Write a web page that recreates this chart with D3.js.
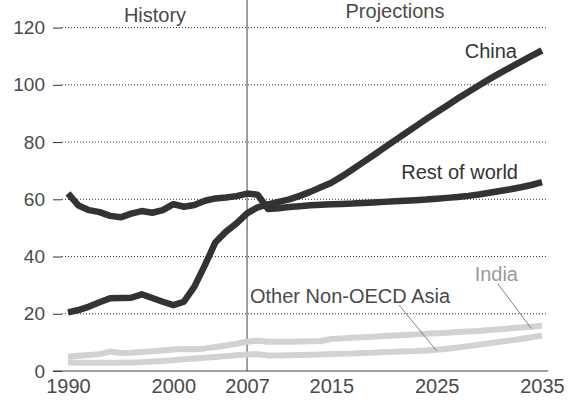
<!DOCTYPE html>
<html>
<head>
<meta charset="utf-8">
<script src="https://cdn.jsdelivr.net/npm/d3@7"></script>
<style>
  html, body { margin: 0; padding: 0; background: #fff; }
  svg { display: block; font-family: "Liberation Sans", Arial, Helvetica, sans-serif; }
</style>
</head>
<body>
<svg id="chart" width="584" height="416"></svg>
<script>
const years = d3.range(1990, 2036);
const china = [20.5,21.3,22.5,24,25.4,25.5,25.6,26.8,25.5,24.2,23,24.2,29.5,37,45,48.7,51.6,55.1,57.2,58.2,
  59.1,60,61.2,62.6,64.2,65.8,68,70.4,72.9,75.4,78,80.5,83,85.5,88,90.4,92.8,95.2,97.5,99.8,102,104.1,106.1,108.1,110.1,112];
const restOfWorld = [62.1,57.8,56.2,55.5,54.2,53.7,55,55.9,55.3,56.2,58.3,57.4,58,59.5,60.3,60.6,61.1,62,61.6,56.6,
  56.9,57.3,57.6,57.9,58.1,58.3,58.4,58.5,58.7,58.9,59.1,59.3,59.5,59.7,59.9,60.2,60.5,60.8,61.2,61.7,62.3,62.9,63.5,64.2,65,66];
const india = [5.0,5.3,5.6,5.9,6.8,6.3,6.4,6.6,6.9,7.2,7.5,7.7,7.6,7.9,8.4,8.9,9.5,10.2,10.6,10.2,
  10.2,10.2,10.3,10.4,10.5,11.2,11.4,11.6,11.8,12.0,12.2,12.4,12.6,12.8,13.0,13.2,13.4,13.6,13.8,14.0,14.3,14.6,14.9,15.2,15.5,15.8];
const otherAsia = [3.0,2.9,2.9,2.9,2.9,2.9,3.0,3.1,3.3,3.5,3.8,4.1,4.4,4.6,4.9,5.2,5.5,5.8,5.9,5.4,
  5.4,5.5,5.6,5.7,5.8,5.9,6.0,6.1,6.3,6.4,6.6,6.7,6.9,7.0,7.2,7.4,7.8,8.2,8.7,9.2,9.7,10.2,10.7,11.2,11.8,12.4];
const xTicks = [1990, 2000, 2007, 2015, 2025, 2035];
const yTicks = [0, 20, 40, 60, 80, 100, 120];
const splitYear = 2007;

const svg = d3.select("#chart");
const x = d3.scaleLinear().domain([1990, 2035]).range([68, 542]);
const y = d3.scaleLinear().domain([0, 120]).range([371, 27.6]);
const textColor = "#4a4a4a";
const fs = "20px";

// gridlines (dotted)
svg.append("g").selectAll("line").data(yTicks.filter(d => d > 0)).join("line")
  .attr("x1", 62).attr("x2", 548)
  .attr("y1", d => y(d)).attr("y2", d => y(d))
  .attr("stroke", "#333").attr("stroke-width", 1).attr("stroke-dasharray", "1,2");

// y axis ticks + labels
const yAxis = svg.append("g").attr("transform", "translate(62,0)")
  .call(d3.axisLeft(y).tickValues(yTicks).tickSize(9).tickPadding(8));
yAxis.select(".domain").remove();
yAxis.selectAll(".tick line").attr("stroke", "#333");
yAxis.selectAll(".tick text").attr("fill", textColor).style("font-size", "19px")
  .style("font-family", "Liberation Sans, Arial, sans-serif");

// x axis
svg.append("line").attr("x1", 53).attr("x2", 548).attr("y1", y(0)).attr("y2", y(0))
  .attr("stroke", "#444").attr("stroke-width", 1.2);
const xAxis = svg.append("g").attr("transform", `translate(0,${y(0)})`)
  .call(d3.axisBottom(x).tickValues(xTicks).tickFormat(d3.format("d")).tickSize(0).tickPadding(8));
xAxis.select(".domain").remove();
xAxis.selectAll(".tick text").attr("fill", textColor).style("font-size", fs)
  .style("font-family", "Liberation Sans, Arial, sans-serif");

// split line
svg.append("line").attr("x1", x(splitYear)).attr("x2", x(splitYear)).attr("y1", 0).attr("y2", y(0))
  .attr("stroke", "#444").attr("stroke-width", 1);

// headers
svg.append("text").attr("x", 155).attr("y", 22).attr("text-anchor", "middle")
  .attr("fill", textColor).style("font-size", fs).text("History");
svg.append("text").attr("x", 395).attr("y", 18).attr("text-anchor", "middle")
  .attr("fill", textColor).style("font-size", fs).text("Projections");

const line = d3.line().x((d, i) => x(years[i])).y(d => y(d));

const series = [
  { values: otherAsia, color: "#d2d2d2", width: 6 },
  { values: india, color: "#d2d2d2", width: 6 },
  { values: restOfWorld, color: "#333333", width: 6.5 },
  { values: china, color: "#333333", width: 6.5 }
];
svg.append("g").selectAll("path").data(series).join("path")
  .attr("d", d => line(d.values))
  .attr("fill", "none").attr("stroke", d => d.color).attr("stroke-width", d => d.width)
  .attr("stroke-linejoin", "round").attr("stroke-linecap", "butt");

// labels
svg.append("text").attr("x", 517).attr("y", 58).attr("text-anchor", "end")
  .attr("fill", "#333").style("font-size", fs).text("China");
svg.append("text").attr("x", 518).attr("y", 179).attr("text-anchor", "end")
  .attr("fill", "#333").style("font-size", fs).text("Rest of world");
svg.append("text").attr("x", 518).attr("y", 281).attr("text-anchor", "end")
  .attr("fill", "#9a9a9a").style("font-size", fs).text("India");
svg.append("text").attr("x", 250).attr("y", 303).attr("text-anchor", "start")
  .attr("fill", textColor).style("font-size", fs).text("Other Non-OECD Asia");

// leader lines
svg.append("line").attr("x1", 498).attr("y1", 284).attr("x2", x(2034)).attr("y2", y(india[44]) + 2)
  .attr("stroke", "#666").attr("stroke-width", 0.8);
svg.append("line").attr("x1", 399).attr("y1", 305).attr("x2", x(2025)).attr("y2", y(otherAsia[35]) + 1)
  .attr("stroke", "#666").attr("stroke-width", 0.8);
</script>
</body>
</html>
